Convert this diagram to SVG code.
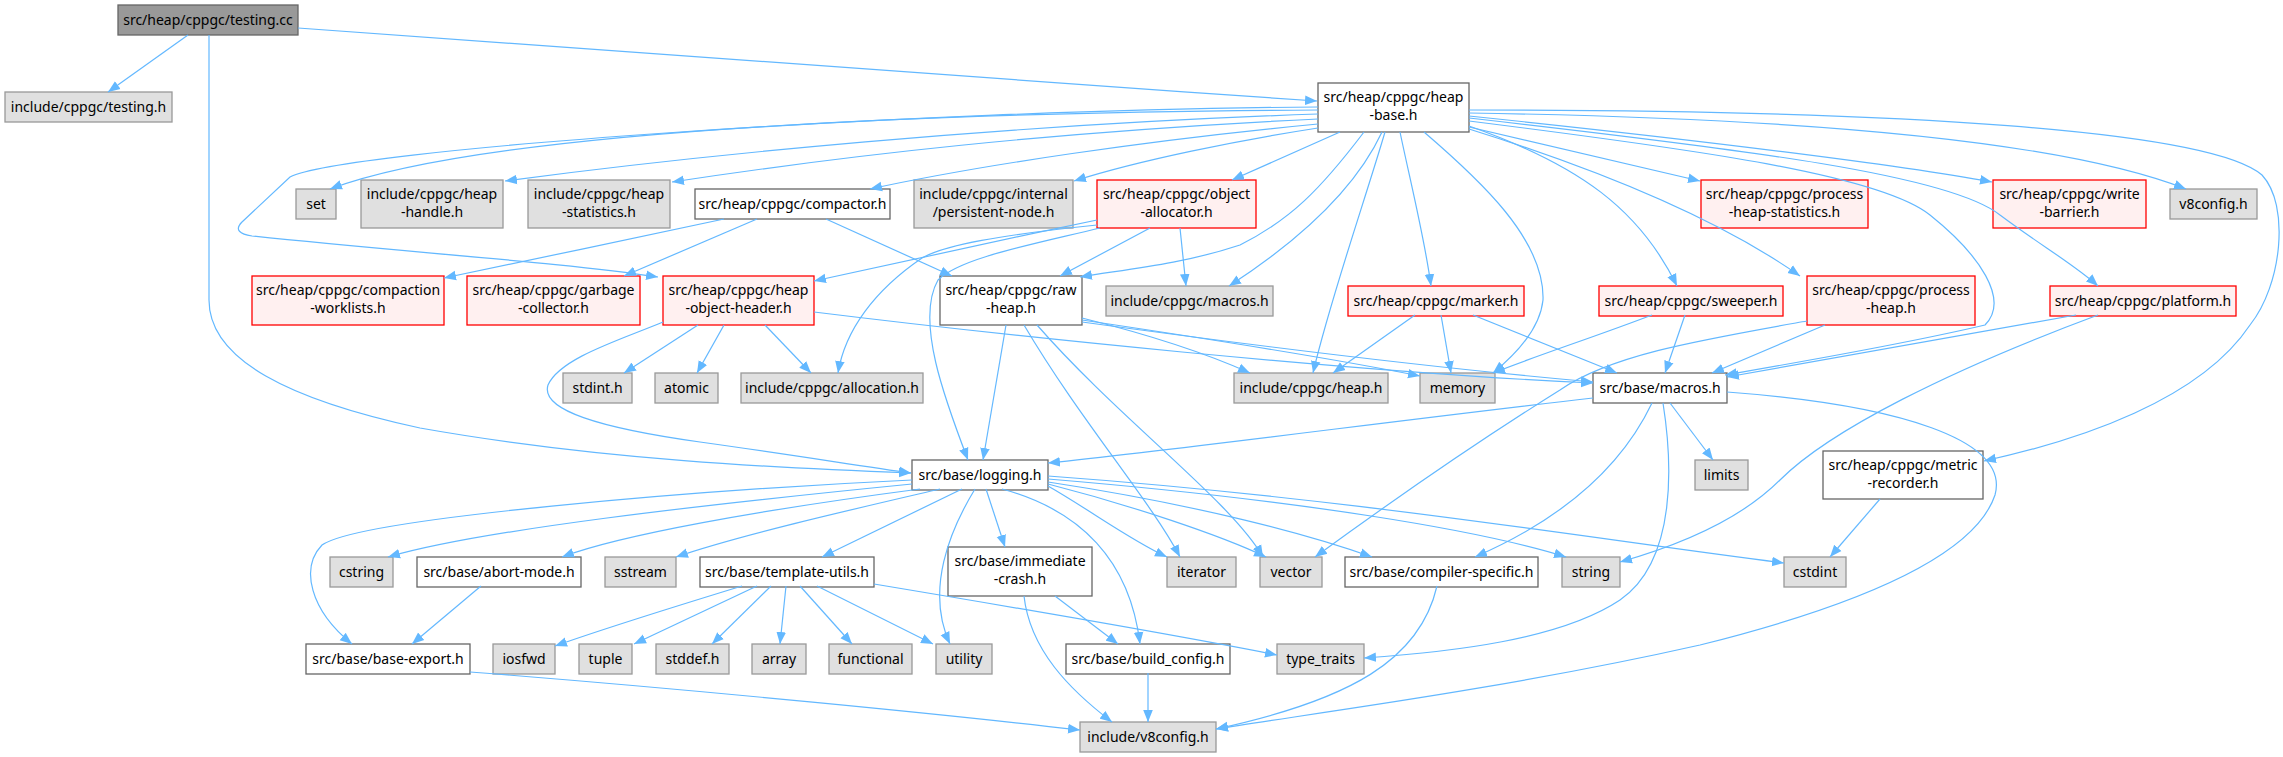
<svg xmlns="http://www.w3.org/2000/svg" width="2283" height="757" viewBox="0 0 2283 757">
<defs>
<marker id="ah" markerWidth="13" markerHeight="11" refX="12" refY="5.5" orient="auto" markerUnits="userSpaceOnUse"><path d="M0,0.7 L12,5.5 L0,10.3 z" fill="#63b8ff"/></marker>
</defs>
<style>
rect{stroke-width:1.3}
.g rect{fill:#e0e0e0;stroke:#999}
.w rect{fill:#fff;stroke:#666}
.r rect{fill:#fff0f0;stroke:#f00}
.root rect{fill:#999;stroke:#666}
text{font-family:"Noto Sans","DejaVu Sans",sans-serif;font-size:14px;fill:#000;text-anchor:middle}
#edges path{fill:none;stroke:#63b8ff;stroke-width:1.2;marker-end:url(#ah)}
</style>
<rect width="2283" height="757" fill="#fff"/>
<g id="nodes">
<g id="n0" class="root"><rect x="118" y="5" width="180" height="30"/><text x="208" y="25">src/heap/cppgc/testing.cc</text></g>
<g id="n1" class="g"><rect x="5" y="92" width="167" height="30"/><text x="88.5" y="112">include/cppgc/testing.h</text></g>
<g id="n2" class="w"><rect x="1318" y="83" width="151" height="49"/><text x="1393.5" y="101.5">src/heap/cppgc/heap</text><text x="1393.5" y="120">-base.h</text></g>
<g id="n3" class="g"><rect x="296" y="189" width="40" height="30"/><text x="316" y="209">set</text></g>
<g id="n4" class="g"><rect x="361" y="180" width="142" height="48"/><text x="432" y="198.5">include/cppgc/heap</text><text x="432" y="217">-handle.h</text></g>
<g id="n5" class="g"><rect x="528" y="180" width="142" height="48"/><text x="599" y="198.5">include/cppgc/heap</text><text x="599" y="217">-statistics.h</text></g>
<g id="n6" class="w"><rect x="695" y="189" width="195" height="30"/><text x="792.5" y="209">src/heap/cppgc/compactor.h</text></g>
<g id="n7" class="g"><rect x="914" y="180" width="159" height="48"/><text x="993.5" y="198.5">include/cppgc/internal</text><text x="993.5" y="217">/persistent-node.h</text></g>
<g id="n8" class="r"><rect x="1097" y="180" width="159" height="48"/><text x="1176.5" y="198.5">src/heap/cppgc/object</text><text x="1176.5" y="217">-allocator.h</text></g>
<g id="n9" class="r"><rect x="1701" y="180" width="167" height="48"/><text x="1784.5" y="198.5">src/heap/cppgc/process</text><text x="1784.5" y="217">-heap-statistics.h</text></g>
<g id="n10" class="r"><rect x="1993" y="180" width="153" height="48"/><text x="2069.5" y="198.5">src/heap/cppgc/write</text><text x="2069.5" y="217">-barrier.h</text></g>
<g id="n11" class="g"><rect x="2170" y="189" width="87" height="30"/><text x="2213.5" y="209">v8config.h</text></g>
<g id="n12" class="r"><rect x="252" y="276" width="192" height="49"/><text x="348" y="294.5">src/heap/cppgc/compaction</text><text x="348" y="313">-worklists.h</text></g>
<g id="n13" class="r"><rect x="467" y="276" width="173" height="49"/><text x="553.5" y="294.5">src/heap/cppgc/garbage</text><text x="553.5" y="313">-collector.h</text></g>
<g id="n14" class="r"><rect x="663" y="276" width="151" height="49"/><text x="738.5" y="294.5">src/heap/cppgc/heap</text><text x="738.5" y="313">-object-header.h</text></g>
<g id="n15" class="w"><rect x="940" y="276" width="142" height="49"/><text x="1011" y="294.5">src/heap/cppgc/raw</text><text x="1011" y="313">-heap.h</text></g>
<g id="n16" class="g"><rect x="1106" y="286" width="167" height="30"/><text x="1189.5" y="306">include/cppgc/macros.h</text></g>
<g id="n17" class="r"><rect x="1348" y="286" width="176" height="30"/><text x="1436" y="306">src/heap/cppgc/marker.h</text></g>
<g id="n18" class="r"><rect x="1599" y="286" width="184" height="30"/><text x="1691" y="306">src/heap/cppgc/sweeper.h</text></g>
<g id="n19" class="r"><rect x="1807" y="276" width="168" height="49"/><text x="1891" y="294.5">src/heap/cppgc/process</text><text x="1891" y="313">-heap.h</text></g>
<g id="n20" class="r"><rect x="2050" y="286" width="186" height="30"/><text x="2143" y="306">src/heap/cppgc/platform.h</text></g>
<g id="n21" class="g"><rect x="563" y="373" width="69" height="30"/><text x="597.5" y="393">stdint.h</text></g>
<g id="n22" class="g"><rect x="655" y="373" width="63" height="30"/><text x="686.5" y="393">atomic</text></g>
<g id="n23" class="g"><rect x="741" y="373" width="182" height="30"/><text x="832" y="393">include/cppgc/allocation.h</text></g>
<g id="n24" class="g"><rect x="1234" y="373" width="154" height="30"/><text x="1311" y="393">include/cppgc/heap.h</text></g>
<g id="n25" class="g"><rect x="1420" y="373" width="75" height="30"/><text x="1457.5" y="393">memory</text></g>
<g id="n26" class="w"><rect x="1593" y="373" width="134" height="30"/><text x="1660" y="393">src/base/macros.h</text></g>
<g id="n27" class="w"><rect x="912" y="460" width="136" height="30"/><text x="980" y="480">src/base/logging.h</text></g>
<g id="n28" class="g"><rect x="1695" y="460" width="53" height="30"/><text x="1721.5" y="480">limits</text></g>
<g id="n29" class="w"><rect x="1823" y="451" width="160" height="48"/><text x="1903" y="469.5">src/heap/cppgc/metric</text><text x="1903" y="488">-recorder.h</text></g>
<g id="n30" class="g"><rect x="330" y="557" width="63" height="30"/><text x="361.5" y="577">cstring</text></g>
<g id="n31" class="w"><rect x="417" y="557" width="164" height="30"/><text x="499" y="577">src/base/abort-mode.h</text></g>
<g id="n32" class="g"><rect x="605" y="557" width="71" height="30"/><text x="640.5" y="577">sstream</text></g>
<g id="n33" class="w"><rect x="700" y="557" width="174" height="30"/><text x="787" y="577">src/base/template-utils.h</text></g>
<g id="n34" class="w"><rect x="948" y="547" width="144" height="49"/><text x="1020" y="565.5">src/base/immediate</text><text x="1020" y="584">-crash.h</text></g>
<g id="n35" class="g"><rect x="1167" y="557" width="69" height="30"/><text x="1201.5" y="577">iterator</text></g>
<g id="n36" class="g"><rect x="1260" y="557" width="62" height="30"/><text x="1291" y="577">vector</text></g>
<g id="n37" class="w"><rect x="1345" y="557" width="193" height="30"/><text x="1441.5" y="577">src/base/compiler-specific.h</text></g>
<g id="n38" class="g"><rect x="1562" y="557" width="58" height="30"/><text x="1591" y="577">string</text></g>
<g id="n39" class="g"><rect x="1784" y="557" width="62" height="30"/><text x="1815" y="577">cstdint</text></g>
<g id="n40" class="w"><rect x="306" y="644" width="164" height="30"/><text x="388" y="664">src/base/base-export.h</text></g>
<g id="n41" class="g"><rect x="493" y="644" width="62" height="30"/><text x="524" y="664">iosfwd</text></g>
<g id="n42" class="g"><rect x="579" y="644" width="53" height="30"/><text x="605.5" y="664">tuple</text></g>
<g id="n43" class="g"><rect x="656" y="644" width="73" height="30"/><text x="692.5" y="664">stddef.h</text></g>
<g id="n44" class="g"><rect x="752" y="644" width="54" height="30"/><text x="779" y="664">array</text></g>
<g id="n45" class="g"><rect x="829" y="644" width="83" height="30"/><text x="870.5" y="664">functional</text></g>
<g id="n46" class="g"><rect x="936" y="644" width="56" height="30"/><text x="964" y="664">utility</text></g>
<g id="n47" class="w"><rect x="1066" y="644" width="164" height="30"/><text x="1148" y="664">src/base/build_config.h</text></g>
<g id="n48" class="g"><rect x="1277" y="644" width="87" height="30"/><text x="1320.5" y="664">type_traits</text></g>
<g id="n49" class="g"><rect x="1080" y="722" width="136" height="30"/><text x="1148" y="742">include/v8config.h</text></g>
</g>
<g id="edges">
<path d="M188,35 L108,92"/>
<path d="M298,28 C700,55 1000,80 1317,101"/>
<path d="M209,35 L209,300 C209,360 290,400 420,428 C600,460 780,468 911,473"/>
<path d="M1318,110 C1000,112 500,125 330,189"/>
<path d="M1318,107 C900,110 340,150 290,177 L242,222 C234,230 240,234 252,236 C400,252 560,262 658,277"/>
<path d="M1318,114 C1000,125 700,155 505,181"/>
<path d="M1318,119 C1050,132 850,155 672,182"/>
<path d="M1318,124 C1150,140 980,165 870,189"/>
<path d="M1318,128 C1240,140 1140,160 1074,181"/>
<path d="M1340,132 L1232,180"/>
<path d="M1364,132 C1320,190 1290,220 1240,245 C1180,265 1120,270 1080,277"/>
<path d="M1382,132 C1355,190 1300,240 1229,286"/>
<path d="M1385,132 C1365,200 1330,300 1313,373"/>
<path d="M1400,132 C1410,180 1425,240 1431,286"/>
<path d="M1424,132 C1480,180 1545,240 1543,300 C1540,330 1515,355 1493,373"/>
<path d="M1469,126 C1580,165 1640,210 1677,286"/>
<path d="M1469,127 L1700,181"/>
<path d="M1469,129 C1600,170 1720,220 1800,276"/>
<path d="M1469,121 C1700,150 1880,175 1930,215 C1980,255 2010,300 1985,325 C1900,345 1800,362 1725,375"/>
<path d="M1469,118 C1750,150 1950,175 2000,215 C2040,245 2075,265 2098,286"/>
<path d="M1469,116 C1700,140 1900,165 1992,182"/>
<path d="M1469,113 C1800,118 2060,140 2186,189"/>
<path d="M1469,110 C1900,110 2210,130 2262,175 C2290,205 2282,285 2250,325 C2200,400 2080,440 1984,461"/>
<path d="M724,219 C650,235 520,262 444,278"/>
<path d="M757,219 L624,276"/>
<path d="M826,219 L952,276"/>
<path d="M1097,220 C1000,240 900,262 814,281"/>
<path d="M1097,225 C1000,235 945,245 922,258 C875,290 845,330 838,373"/>
<path d="M1100,228 C1030,245 960,258 938,280 C915,320 945,400 968,460"/>
<path d="M1150,228 L1060,276"/>
<path d="M1180,228 L1186,286"/>
<path d="M698,325 L624,373"/>
<path d="M724,325 L697,373"/>
<path d="M765,325 L811,373"/>
<path d="M663,322 C620,340 560,358 548,385 C540,410 600,428 700,442 C800,456 860,466 911,473"/>
<path d="M814,312 C1000,335 1350,372 1593,383"/>
<path d="M1006,325 L983,460"/>
<path d="M1024,325 C1080,420 1150,500 1180,557"/>
<path d="M1037,325 C1120,420 1230,500 1263,557"/>
<path d="M1082,318 C1150,335 1210,355 1250,373"/>
<path d="M1082,320 C1250,345 1350,362 1420,376"/>
<path d="M1082,322 C1300,352 1480,372 1593,382"/>
<path d="M1415,315 L1333,373"/>
<path d="M1441,315 L1451,373"/>
<path d="M1473,315 L1617,373"/>
<path d="M1652,315 C1600,335 1530,358 1493,373"/>
<path d="M1685,315 L1665,373"/>
<path d="M1807,321 C1700,340 1610,355 1560,390 C1480,440 1400,495 1315,557"/>
<path d="M1825,325 L1712,373"/>
<path d="M2076,315 L1727,377"/>
<path d="M2098,315 C1950,370 1830,430 1780,480 C1740,520 1680,545 1620,562"/>
<path d="M1593,398 C1400,420 1200,447 1048,463"/>
<path d="M1670,403 L1713,460"/>
<path d="M1652,403 C1620,470 1560,520 1475,557"/>
<path d="M1663,403 C1672,460 1678,560 1620,600 C1560,640 1450,652 1364,658"/>
<path d="M1727,392 C1900,405 2010,440 1995,495 C1970,570 1800,620 1700,645 C1500,690 1300,715 1216,729"/>
<path d="M912,484 C700,505 480,530 388,557"/>
<path d="M912,480 C700,490 360,518 322,545 C300,568 310,610 352,644"/>
<path d="M920,489 C760,510 620,535 562,557"/>
<path d="M940,489 C850,510 740,535 676,557"/>
<path d="M962,489 L822,557"/>
<path d="M975,489 C950,530 925,590 950,644"/>
<path d="M986,489 L1005,547"/>
<path d="M1002,489 C1080,510 1130,560 1140,644"/>
<path d="M1048,486 C1090,510 1130,540 1167,557"/>
<path d="M1048,484 C1130,505 1220,535 1266,557"/>
<path d="M1048,482 C1200,505 1310,535 1372,557"/>
<path d="M1048,479 C1300,500 1480,530 1566,557"/>
<path d="M1048,476 C1350,498 1600,540 1784,563"/>
<path d="M481,586 L412,644"/>
<path d="M742,586 C680,605 600,630 555,646"/>
<path d="M757,586 L634,644"/>
<path d="M771,586 L712,644"/>
<path d="M786,586 L780,644"/>
<path d="M800,586 L852,644"/>
<path d="M817,586 L933,644"/>
<path d="M874,584 C1000,605 1150,630 1277,655"/>
<path d="M1055,596 L1118,644"/>
<path d="M1024,596 C1030,650 1070,690 1112,722"/>
<path d="M1148,673 L1148,722"/>
<path d="M1437,586 C1420,660 1350,700 1216,729"/>
<path d="M470,672 C700,690 950,715 1080,730"/>
<path d="M1880,499 L1830,557"/>
</g>
</svg>
